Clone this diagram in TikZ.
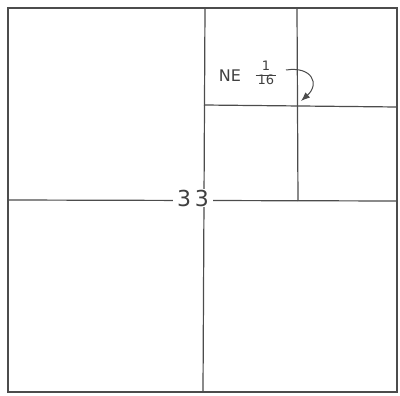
\documentclass[tikz,border=0pt]{standalone}
\usepackage{fontspec}
\setmainfont{DejaVu Sans}
\usetikzlibrary{arrows.meta}
\begin{document}
\begin{tikzpicture}[x=1pt,y=-1pt,
  ln/.style={draw=black!70, line width=1.2pt},
  lbl/.style={text=black!75, inner sep=1pt},
  arr/.style={draw=black!70, line width=1pt, -{Latex[length=9pt,width=7pt]}}]
\useasboundingbox (0,0) rectangle (400,396);
\coordinate (tl) at (8,8);
\coordinate (br) at (397,392);
\draw[ln] (tl) rectangle (br);
\coordinate (vt) at (205,8);
\coordinate (vb) at (203,392);
\draw[ln] (vt) -- (vb);
\coordinate (hl) at (8,200);
\coordinate (hr) at (397,201);
\draw[ln] (hl) -- (hr);
\coordinate (nvt) at (297,8);
\coordinate (nvb) at (298,201);
\draw[ln] (nvt) -- (nvb);
\coordinate (nhl) at (204,105);
\coordinate (nhr) at (397,107);
\draw[ln] (nhl) -- (nhr);
\node[lbl, fill=white, font=\fontsize{22}{22}\selectfont, inner xsep=4pt] (c) at (193,198) {3\,3};
\node[lbl, font=\fontsize{16}{16}\selectfont] (ne) at (230,76) {NE};
\node[lbl, font=\fontsize{13}{15}\selectfont] (fr) at (266,75) {\renewcommand{\arraystretch}{0.9}\setlength{\tabcolsep}{2pt}\begin{tabular}{c}1\\\hline 16\end{tabular}};
\coordinate (as) at (286,70);
\coordinate (ae) at (301,101);
\draw[arr] (as) .. controls (312,66) and (320,84) .. (ae);
\end{tikzpicture}
\end{document}
